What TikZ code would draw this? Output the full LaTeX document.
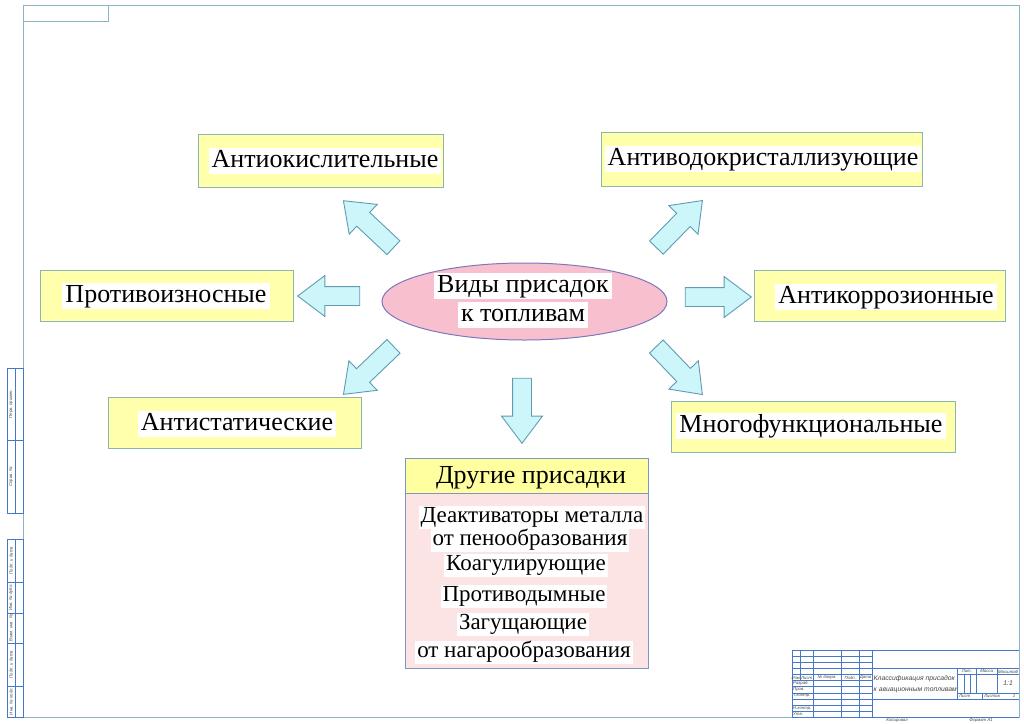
\documentclass[tikz,border=0pt]{standalone}
\usepackage{fontspec}
\setmainfont{Liberation Serif}
\newfontfamily\gostfont{Liberation Sans}
\usetikzlibrary{shapes.geometric,shapes.arrows}
\definecolor{boxfill}{RGB}{255,255,172}
\definecolor{boxline}{RGB}{140,182,172}
\definecolor{hdrfill}{RGB}{255,255,160}
\definecolor{pinkbody}{RGB}{253,228,228}
\definecolor{otherline}{RGB}{125,150,200}
\definecolor{ellfill}{RGB}{248,192,206}
\definecolor{ellline}{RGB}{125,120,190}
\definecolor{arrfill}{RGB}{205,246,250}
\definecolor{arrline}{RGB}{95,155,178}
\definecolor{frameline}{RGB}{140,180,200}
\definecolor{gostline}{RGB}{70,120,200}
\definecolor{gosttext}{RGB}{70,70,70}
\begin{document}
\begin{tikzpicture}[x=1pt,y=-1pt,
  typebox/.style={draw=boxline, line width=1pt, fill=boxfill, inner sep=0pt},
  otherbox/.style={draw=otherline, line width=0.9pt, inner sep=0pt},
  hl/.style={fill=white, inner xsep=3pt, inner ysep=1pt, text height=18pt, text depth=6pt, font=\fontsize{26}{30}\selectfont},
  hlsmall/.style={fill=white, inner xsep=2pt, inner ysep=1pt, text height=16pt, text depth=5pt, font=\fontsize{23}{27}\selectfont},
  barrow/.style={single arrow, draw=arrline, fill=arrfill, line width=0.9pt, inner xsep=0pt, inner ysep=9pt, single arrow head extend=11pt, single arrow tip angle=74, minimum width=40pt, anchor=center},
  fr/.style={draw=frameline, line width=0.9pt},
  gl/.style={draw=gostline, line width=0.6pt},
  gt/.style={font=\gostfont\itshape\fontsize{4.3}{5}\selectfont, text=gosttext, inner sep=0pt},
  gtl/.style={gt, font=\gostfont\itshape\fontsize{6.8}{8}\selectfont},
]
\useasboundingbox (0,0) rectangle (1024,723);
\fill[white] (0,0) rectangle (1024,723);

% ---------- drawing frame ----------
\draw[fr] (23,5) rectangle (1019,717);
\draw[fr] (23,21) -- (108,21) -- (108,5);
% left strip, upper
\draw[gl] (7,368) rectangle (23,513);
\draw[gl] (7,440) -- (23,440);
\draw[gl] (15,368) -- (15,513);
\node[gt, rotate=90] (s1) at (11,404) {Перв. примен.};
\node[gt, rotate=90] (s2) at (11,476.5) {Справ. №};
% left strip, lower
\draw[gl] (7,539) rectangle (23,717);
\foreach \yy in {582,613,643,686} \draw[gl] (7,\yy) -- (23,\yy);
\draw[gl] (15,539) -- (15,717);
\node[gt, rotate=90] (s3) at (11,560.5) {Подп. и дата};
\node[gt, rotate=90] (s4) at (11,597.5) {Инв. № дубл.};
\node[gt, rotate=90] (s5) at (11,628) {Взам. инв. №};
\node[gt, rotate=90] (s6) at (11,664.5) {Подп. и дата};
\node[gt, rotate=90] (s7) at (11,701.5) {Инв. № подл.};

% ---------- title block ----------
\draw[gl] (792,717) -- (792,650) -- (1019,650);
\draw[gl] (792,717) -- (1019,717);
\foreach \yy in {656.1,662.3,668.4,674.5,680.6,686.7,692.8,698.9,705,711.1}
  \draw[gl] (792,\yy) -- (871.8,\yy);
\draw[gl] (800.6,650) -- (800.6,680.6);
\foreach \xx in {812.9,841.1,859.5,871.8} \draw[gl] (\xx,650) -- (\xx,717);
\draw[gl] (871.8,668.4) -- (1019,668.4);
\draw[gl] (871.8,698.9) -- (1019,698.9);
\draw[gl] (957.7,668.4) -- (957.7,698.9);
\draw[gl] (957.7,674.5) -- (1019,674.5);
\draw[gl] (957.7,692.8) -- (1019,692.8);
\draw[gl] (976.1,668.4) -- (976.1,692.8);
\draw[gl] (997.2,668.4) -- (997.2,692.8);
\draw[gl] (963.8,674.5) -- (963.8,692.8);
\draw[gl] (969.9,674.5) -- (969.9,692.8);
\draw[gl] (982,692.8) -- (982,698.9);
\node[gt] (t1) at (796.3,677.6) {Изм.};
\node[gt] (t2) at (806.7,677.6) {Лист};
\node[gt] (t3) at (827,677.6) {№ докум.};
\node[gt] (t4) at (850.3,677.6) {Подп.};
\node[gt] (t5) at (865.6,677.6) {Дата};
\node[gt, anchor=west] (t6) at (793,683.7) {Разраб.};
\node[gt, anchor=west] (t7) at (793,689.8) {Пров.};
\node[gt, anchor=west] (t8) at (793,695.9) {Т.контр.};
\node[gt, anchor=west] (t9) at (793,708.1) {Н.контр.};
\node[gt, anchor=west] (t10) at (793,714.2) {Утв.};
\node[gtl, anchor=west] (t11) at (873.5,679) {Классификация присадок};
\node[gtl, anchor=west] (t12) at (873.5,690) {к авиационным топливам};
\node[gt] (t13) at (966.9,671.5) {Лит.};
\node[gt] (t14) at (986.6,671.5) {Масса};
\node[gt] (t15) at (1008.1,671.5) {Масштаб};
\node[gtl] (t16) at (1008.1,683.6) {1:1};
\node[gt, anchor=west] (t17) at (959,695.9) {Лист};
\node[gt, anchor=west] (t18) at (984,695.9) {Листов};
\node[gt] (t19) at (1014,695.9) {1};
\node[gt] (t20) at (897,720.5) {Копировал};
\node[gt] (t21) at (981,720.5) {Формат А1};

% ---------- centre ----------
\node[ellipse, draw=ellline, line width=1pt, fill=ellfill, minimum width=285pt, minimum height=77pt, inner sep=0pt] (c) at (524.5,301.5) {};
\node[hl] (c1) at (523,286) {Виды присадок};
\node[hl] (c2) at (523,315) {к топливам};

% ---------- type boxes ----------
\node[typebox, minimum width=245pt, minimum height=53pt] (b1) at (320.5,160.5) {};
\node[hl] (b1t) at (325,161) {Антиокислительные};
\node[typebox, minimum width=321pt, minimum height=54pt] (b2) at (761.5,159) {};
\node[hl] (b2t) at (763,159) {Антиводокристаллизующие};
\node[typebox, minimum width=253pt, minimum height=51pt] (b3) at (166.5,295.5) {};
\node[hl] (b3t) at (166,296) {Противоизносные};
\node[typebox, minimum width=251pt, minimum height=51pt] (b4) at (879.5,295.5) {};
\node[hl] (b4t) at (886,297) {Антикоррозионные};
\node[typebox, minimum width=253pt, minimum height=51pt] (b5) at (234.5,422.5) {};
\node[hl] (b5t) at (237,424) {Антистатические};
\node[typebox, minimum width=284pt, minimum height=51pt] (b6) at (813,426.5) {};
\node[hl] (b6t) at (811,426) {Многофункциональные};

% ---------- other additives ----------
\node[otherbox, fill=hdrfill, minimum width=243pt, minimum height=35pt] (oh) at (526.5,475.5) {};
\node[otherbox, fill=pinkbody, minimum width=243pt, minimum height=175pt, anchor=north] (ob) at (oh.south) {};
\node[hl, fill=none] (oht) at (531,477) {Другие присадки};
\node[hlsmall] (l1) at (532,517) {Деактиваторы металла};
\node[hlsmall] (l2) at (530,540) {от пенообразования};
\node[hlsmall] (l3) at (526,565) {Коагулирующие};
\node[hlsmall] (l4) at (524,596) {Противодымные};
\node[hlsmall] (l5) at (523,624) {Загущающие};
\node[hlsmall] (l6) at (524,652) {от нагарообразования};

% ---------- arrows ----------
\node[barrow, minimum height=68.6pt, rotate=136.8] (a1) at (373,228.5) {};
\node[barrow, minimum height=62pt, rotate=180] (a2) at (335,296) {};
\node[barrow, minimum height=69.3pt, rotate=223.8] (a3) at (373,366) {};
\node[barrow, minimum height=65pt, rotate=270] (a4) at (522,404.5) {};
\node[barrow, minimum height=65.8pt, rotate=45.6] (a5) at (675,228.5) {};
\node[barrow, minimum height=66pt, rotate=0] (a6) at (712,297) {};
\node[barrow, minimum height=66.5pt, rotate=-46.2] (a7) at (675,366) {};
\end{tikzpicture}
\end{document}
